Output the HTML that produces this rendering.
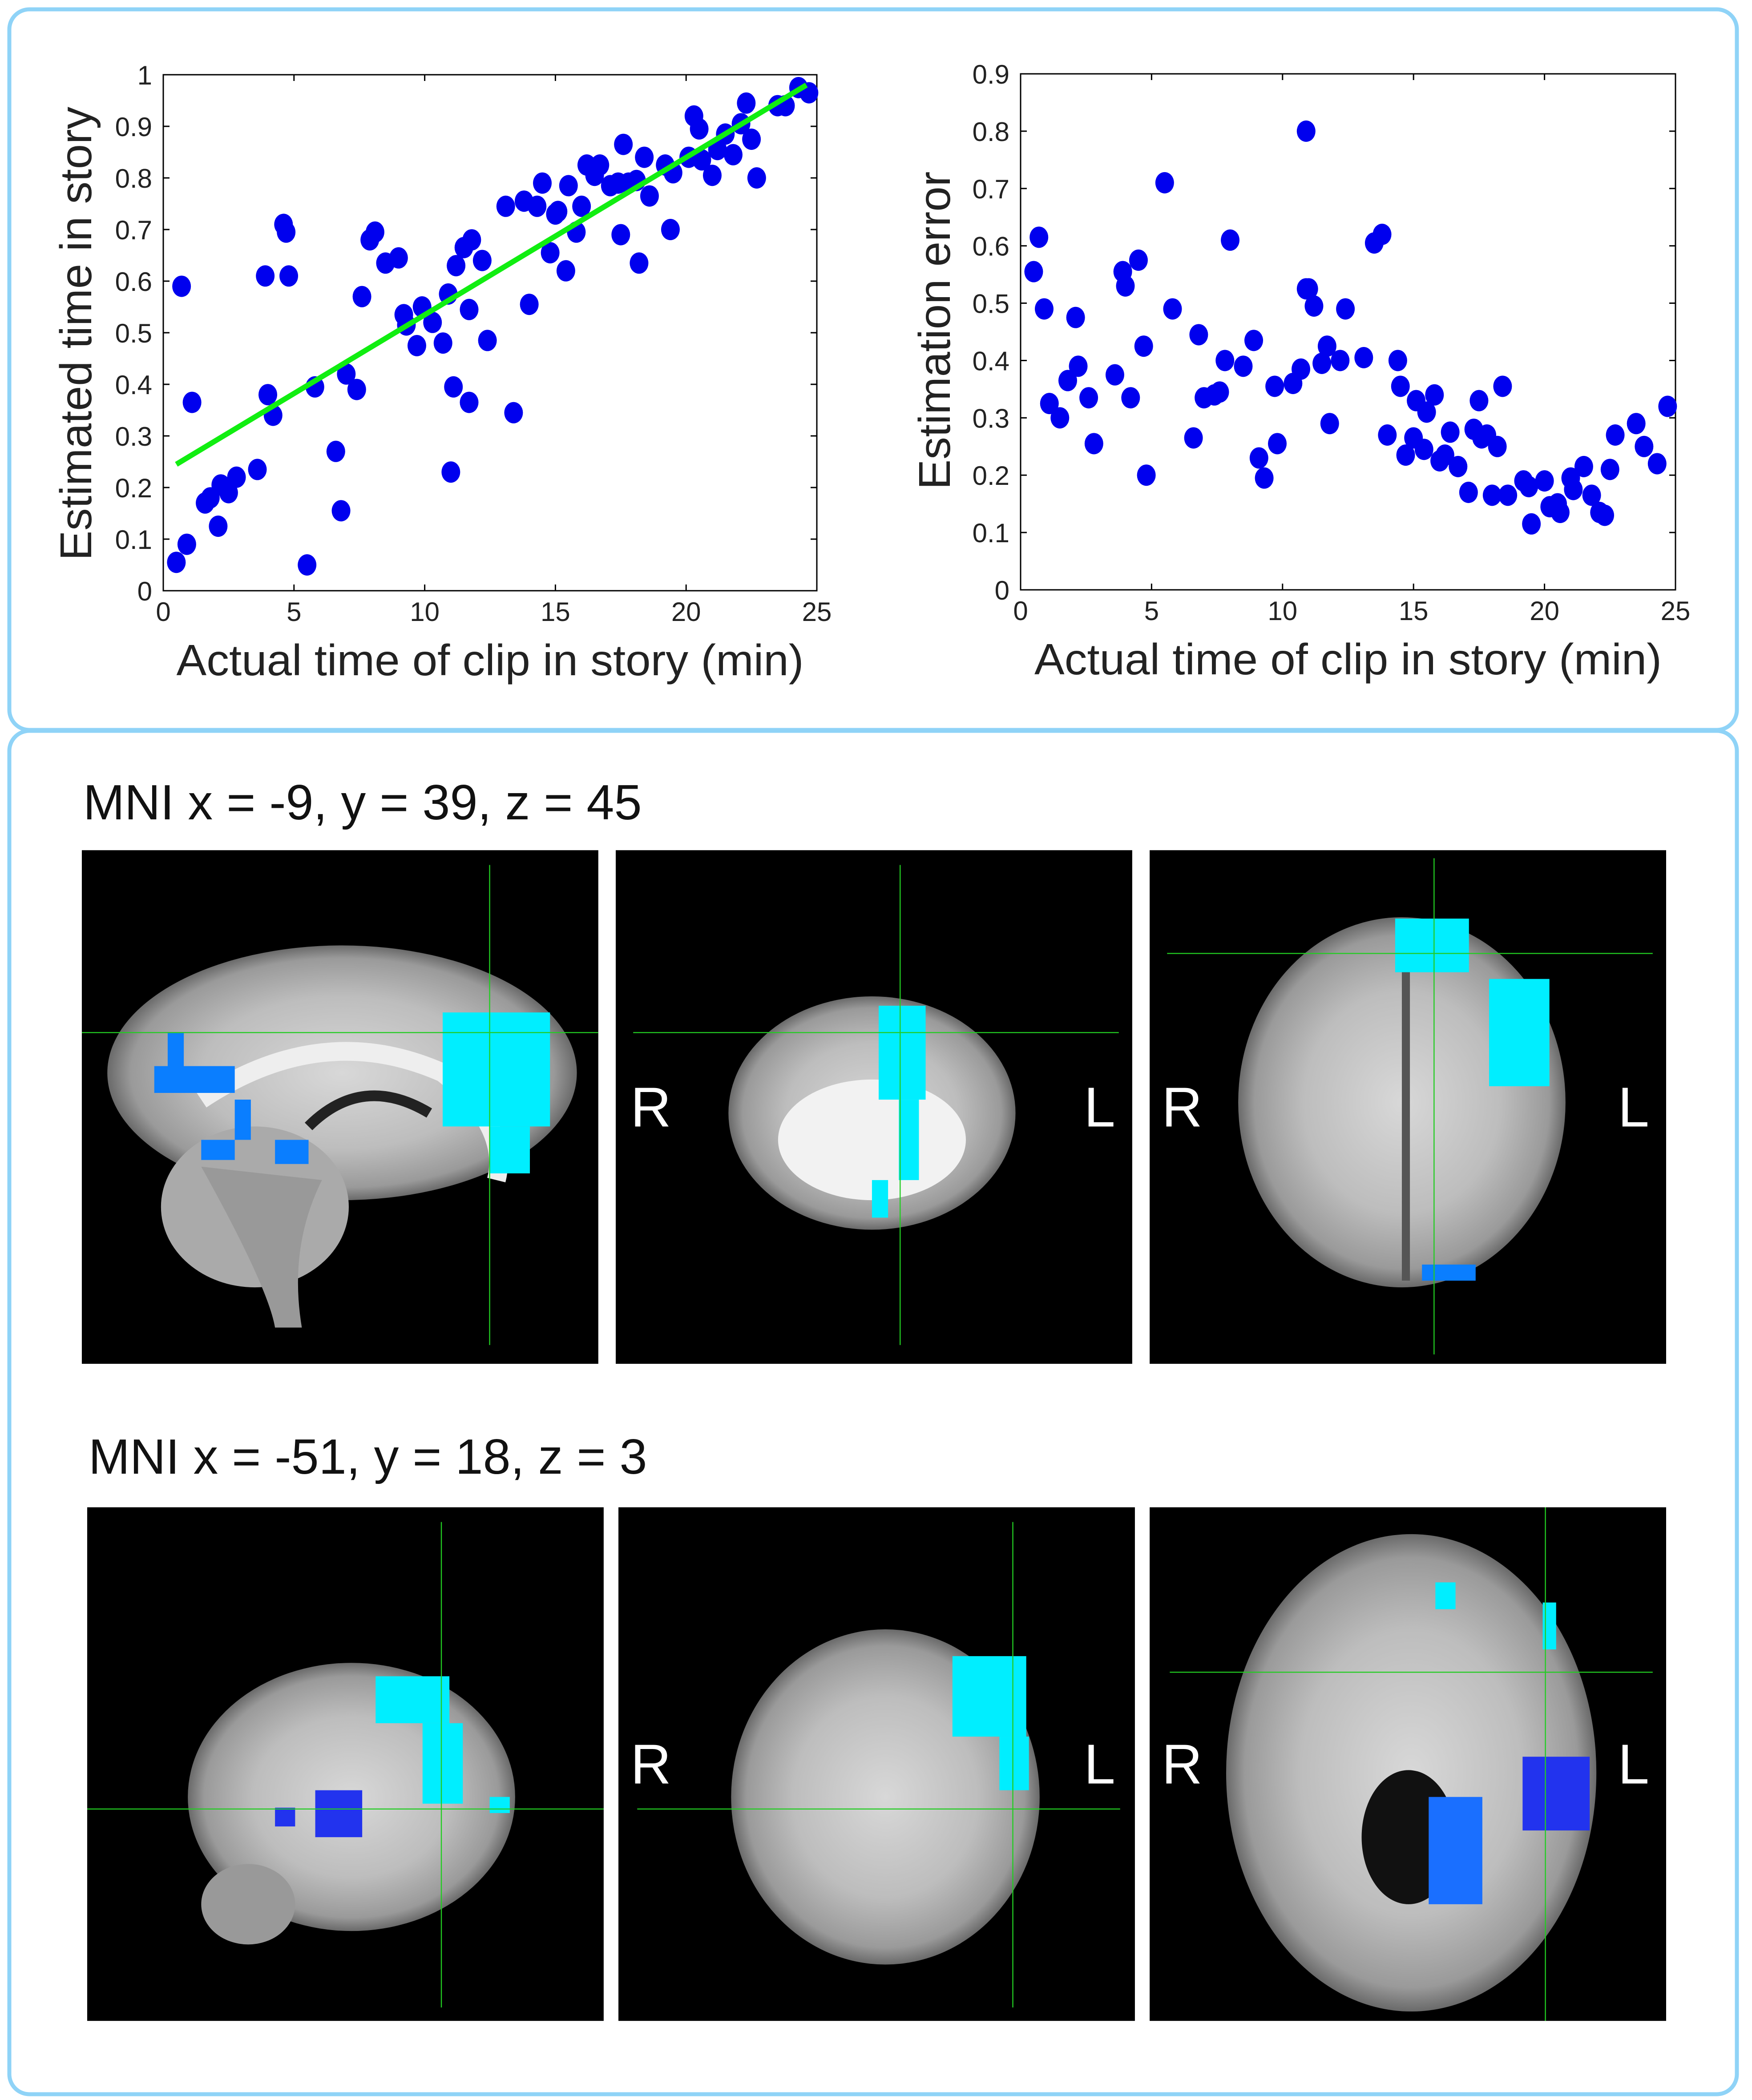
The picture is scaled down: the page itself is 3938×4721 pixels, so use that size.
<!DOCTYPE html>
<html><head><meta charset="utf-8"><style>
html,body{margin:0;padding:0;background:#fff}
svg{display:block}
text{font-family:"Liberation Sans",sans-serif}
</style></head><body>
<svg id="root" width="3938" height="4721" viewBox="0 0 3938 4721" xmlns="http://www.w3.org/2000/svg">
<defs>
<radialGradient id="brainG" cx="50%" cy="50%" r="50%">
<stop offset="0" stop-color="#d8d8d8"/><stop offset="0.6" stop-color="#bdbdbd"/><stop offset="0.9" stop-color="#9a9a9a"/><stop offset="1" stop-color="#6a6a6a"/>
</radialGradient>
</defs>
<rect x="21" y="21" width="3883" height="1620" rx="45" fill="none" stroke="#8fd3f7" stroke-width="9"/>
<rect x="21" y="1643" width="3883" height="3065" rx="45" fill="none" stroke="#8fd3f7" stroke-width="9"/>
<g id="chart1"></g>
<g id="chart2"></g>

<g transform="scale(3.0153,3.0147)">
<text x="62" y="611" font-size="37" fill="#111">MNI x = -9, y = 39, z = 45</text>
<text x="66" y="1099" font-size="37" fill="#111">MNI x = -51, y = 18, z = 3</text>

<g>
<rect x="61" y="634" width="385" height="383" fill="#000"/>
<ellipse cx="255" cy="800" rx="175" ry="95" fill="url(#brainG)"/>
<ellipse cx="190" cy="900" rx="70" ry="60" fill="#aaa"/>
<path d="M150 870 Q200 960 205 990 L225 990 Q215 930 240 880Z" fill="#999"/>
<path d="M150 820 Q240 760 330 800 Q380 840 370 880" stroke="#eee" stroke-width="14" fill="none"/>
<path d="M230 840 Q270 800 320 830" stroke="#222" stroke-width="8" fill="none"/>
<rect x="330" y="755" width="80" height="85" fill="#00eeff"/><rect x="365" y="840" width="30" height="35" fill="#00eeff"/>
<rect x="115" y="795" width="60" height="20" fill="#0a7eff"/><rect x="125" y="770" width="12" height="30" fill="#0a7eff"/>
<rect x="150" y="850" width="25" height="15" fill="#0a7eff"/><rect x="205" y="850" width="25" height="18" fill="#0a7eff"/><rect x="175" y="820" width="12" height="30" fill="#0a7eff"/>
<line x1="365" y1="645" x2="365" y2="1003" stroke="#22cc22" stroke-width="0.8"/>
<line x1="61" y1="770" x2="446" y2="770" stroke="#22cc22" stroke-width="0.8"/>
</g>
<g>
<rect x="459" y="634" width="385" height="383" fill="#000"/>
<ellipse cx="650" cy="830" rx="107" ry="87" fill="url(#brainG)"/>
<ellipse cx="650" cy="850" rx="70" ry="45" fill="#f2f2f2"/>
<rect x="655" y="750" width="35" height="70" fill="#00eeff"/><rect x="670" y="820" width="15" height="60" fill="#00eeff"/><rect x="650" y="880" width="12" height="28" fill="#00eeff"/>
<line x1="671" y1="645" x2="671" y2="1003" stroke="#22cc22" stroke-width="0.8"/>
<line x1="472" y1="770" x2="834" y2="770" stroke="#22cc22" stroke-width="0.8"/>
<text x="470" y="840" font-size="42" fill="#fff">R</text><text x="808" y="840" font-size="42" fill="#fff">L</text>
</g>
<g>
<rect x="857" y="634" width="385" height="383" fill="#000"/>
<ellipse cx="1045" cy="822" rx="122" ry="138" fill="url(#brainG)"/>
<line x1="1048" y1="690" x2="1048" y2="955" stroke="#555" stroke-width="6"/>
<rect x="1040" y="685" width="55" height="40" fill="#00eeff"/><rect x="1110" y="730" width="45" height="80" fill="#00eeff"/>
<rect x="1060" y="943" width="40" height="12" fill="#0a7eff"/>
<line x1="1069" y1="640" x2="1069" y2="1010" stroke="#22cc22" stroke-width="0.8"/>
<line x1="870" y1="711" x2="1232" y2="711" stroke="#22cc22" stroke-width="0.8"/>
<text x="866" y="840" font-size="42" fill="#fff">R</text><text x="1206" y="840" font-size="42" fill="#fff">L</text>
</g>

<g>
<rect x="65" y="1124" width="385" height="383" fill="#000"/>
<ellipse cx="262" cy="1340" rx="122" ry="100" fill="url(#brainG)"/>
<ellipse cx="185" cy="1420" rx="35" ry="30" fill="#999"/>
<rect x="280" y="1250" width="55" height="35" fill="#00eeff"/><rect x="315" y="1285" width="30" height="60" fill="#00eeff"/><rect x="365" y="1340" width="15" height="12" fill="#00eeff"/>
<rect x="235" y="1335" width="35" height="35" fill="#2233ee"/><rect x="205" y="1348" width="15" height="14" fill="#2233ee"/>
<line x1="329" y1="1135" x2="329" y2="1497" stroke="#22cc22" stroke-width="0.8"/>
<line x1="65" y1="1349" x2="450" y2="1349" stroke="#22cc22" stroke-width="0.8"/>
</g>
<g>
<rect x="461" y="1124" width="385" height="383" fill="#000"/>
<ellipse cx="660" cy="1340" rx="115" ry="125" fill="url(#brainG)"/>
<rect x="710" y="1235" width="55" height="60" fill="#00eeff"/><rect x="745" y="1295" width="22" height="40" fill="#00eeff"/>
<line x1="755" y1="1135" x2="755" y2="1497" stroke="#22cc22" stroke-width="0.8"/>
<line x1="475" y1="1349" x2="835" y2="1349" stroke="#22cc22" stroke-width="0.8"/>
<text x="470" y="1330" font-size="42" fill="#fff">R</text><text x="808" y="1330" font-size="42" fill="#fff">L</text>
</g>
<g>
<rect x="857" y="1124" width="385" height="383" fill="#000"/>
<ellipse cx="1052" cy="1322" rx="138" ry="178" fill="url(#brainG)"/>
<ellipse cx="1050" cy="1370" rx="35" ry="50" fill="#111"/>
<rect x="1135" y="1310" width="50" height="55" fill="#2233ee"/><rect x="1065" y="1340" width="40" height="80" fill="#1a6fff"/>
<rect x="1070" y="1180" width="15" height="20" fill="#00eeff"/><rect x="1150" y="1195" width="10" height="35" fill="#00eeff"/>
<line x1="1152" y1="1124" x2="1152" y2="1507" stroke="#22cc22" stroke-width="0.8"/>
<line x1="872" y1="1247" x2="1232" y2="1247" stroke="#22cc22" stroke-width="0.8"/>
<text x="866" y="1330" font-size="42" fill="#fff">R</text><text x="1206" y="1330" font-size="42" fill="#fff">L</text>
</g>
</g>
</svg>
<script>
const xTicks=[0,5,10,15,20,25];
const yTicks1=[0,0.1,0.2,0.3,0.4,0.5,0.6,0.7,0.8,0.9,1];
const yTickLabels1=["0","0.1","0.2","0.3","0.4","0.5","0.6","0.7","0.8","0.9","1"];
const yTicks2=[0,0.1,0.2,0.3,0.4,0.5,0.6,0.7,0.8,0.9];
const yTickLabels2=["0","0.1","0.2","0.3","0.4","0.5","0.6","0.7","0.8","0.9"];
const estX=[0.5,0.9,0.7,1.1,1.6,1.8,2.2,2.1,2.5,2.8,3.6,3.9,4.0,4.2,4.6,4.7,4.8,5.5,5.8,6.6,6.8,7.0,7.4,7.6,7.9,8.1,8.5,9.0,9.2,9.3,9.7,9.9,10.3,10.7,10.9,11.0,11.1,11.2,11.5,11.8,11.7,11.7,12.2,12.4,13.1,13.4,13.8,14.0,14.3,14.5,14.8,15.0,15.1,15.4,15.5,15.8,16.0,16.2,16.5,16.7,17.1,17.4,17.5,17.6,17.8,18.1,18.2,18.4,18.6,19.2,19.4,19.5,20.1,20.3,20.5,20.6,21.0,21.2,21.5,21.8,22.1,22.3,22.5,22.7,23.5,23.8,24.3,24.7];
const estY=[0.055,0.09,0.59,0.365,0.17,0.18,0.205,0.125,0.19,0.22,0.235,0.61,0.38,0.34,0.71,0.695,0.61,0.05,0.395,0.27,0.155,0.42,0.39,0.57,0.68,0.695,0.635,0.645,0.535,0.515,0.475,0.55,0.52,0.48,0.575,0.23,0.395,0.63,0.665,0.68,0.545,0.365,0.64,0.485,0.745,0.345,0.755,0.555,0.745,0.79,0.655,0.73,0.735,0.62,0.785,0.695,0.745,0.825,0.805,0.825,0.785,0.79,0.69,0.865,0.79,0.795,0.635,0.84,0.765,0.825,0.70,0.81,0.84,0.92,0.895,0.835,0.805,0.855,0.885,0.845,0.905,0.945,0.875,0.80,0.94,0.94,0.975,0.965];
const fitX=[0.5,24.6];
const fitY=[0.245,0.98];
const errX=[0.5,0.7,0.9,1.1,1.5,1.8,2.1,2.2,2.6,2.8,3.6,3.9,4.0,4.2,4.5,4.7,4.8,5.5,5.8,6.6,6.8,7.0,7.4,7.6,7.8,8.0,8.5,8.9,9.1,9.3,9.7,9.8,10.4,10.7,10.9,10.9,11.0,11.2,11.5,11.7,11.8,12.2,12.4,13.1,13.5,13.8,14.0,14.4,14.5,14.7,15.0,15.1,15.4,15.5,15.8,16.0,16.2,16.4,16.7,17.1,17.3,17.5,17.6,17.8,18.0,18.2,18.4,18.6,19.2,19.4,19.5,20.0,20.2,20.5,20.6,21.0,21.1,21.5,21.8,22.1,22.3,22.5,22.7,23.5,23.8,24.3,24.7];
const errY=[0.555,0.615,0.49,0.325,0.30,0.365,0.475,0.39,0.335,0.255,0.375,0.555,0.53,0.335,0.575,0.425,0.20,0.71,0.49,0.265,0.445,0.335,0.34,0.345,0.40,0.61,0.39,0.435,0.23,0.195,0.355,0.255,0.36,0.385,0.525,0.80,0.525,0.495,0.395,0.425,0.29,0.40,0.49,0.405,0.605,0.62,0.27,0.40,0.355,0.235,0.265,0.33,0.245,0.31,0.34,0.225,0.235,0.275,0.215,0.17,0.28,0.33,0.265,0.27,0.165,0.25,0.355,0.165,0.19,0.18,0.115,0.19,0.145,0.15,0.135,0.195,0.175,0.215,0.165,0.135,0.13,0.21,0.27,0.29,0.25,0.22,0.32];

const NS='http://www.w3.org/2000/svg';
function mk(parent,tag,attrs){const e=document.createElementNS(NS,tag);for(const k in attrs)e.setAttribute(k,attrs[k]);parent.appendChild(e);return e;}

function drawChart(g,box,xMax,yMax,yT,yL,xs,ys,ylabel,ylabelX,fit){
  const sx=v=>box.l+(v/xMax)*(box.r-box.l);
  const sy=v=>box.b-(v/yMax)*(box.b-box.t);
  const frame=mk(g,'rect',{x:box.l,y:box.t,width:box.r-box.l,height:box.b-box.t,fill:'none',stroke:'#000','stroke-width':3});
  
  
  xTicks.forEach(t=>{
    const x=sx(t);
    mk(g,'line',{x1:x,y1:box.b,x2:x,y2:box.b-14,stroke:'#000','stroke-width':3});
    mk(g,'line',{x1:x,y1:box.t,x2:x,y2:box.t+14,stroke:'#000','stroke-width':3});
    const tx=mk(g,'text',{x:x,y:box.b+68,'font-size':60,'text-anchor':'middle',fill:'#222'});
    tx.textContent=String(t);
    
    
  });
  yT.forEach((t,i)=>{
    const y=sy(t);
    mk(g,'line',{x1:box.l,y1:y,x2:box.l+14,y2:y,stroke:'#000','stroke-width':3});
    mk(g,'line',{x1:box.r,y1:y,x2:box.r-14,y2:y,stroke:'#000','stroke-width':3});
    const tx=mk(g,'text',{x:box.l-25,y:y+22,'font-size':60,'text-anchor':'end',fill:'#222'});
    tx.textContent=yL[i];
    
    
  });
  xs.forEach((v,i)=>{
    const c=mk(g,'ellipse',{cx:sx(v),cy:sy(ys[i]),rx:21,ry:24,fill:'#0000ee'});
    
    
  });
  if(fit){
    const ln2=mk(g,'line',{x1:sx(fit[0][0]),y1:sy(fit[1][0]),x2:sx(fit[0][1]),y2:sy(fit[1][1]),stroke:'#11ee11','stroke-width':12});
    
    
  }
  const xl=mk(g,'text',{x:(box.l+box.r)/2,y:box.b+190,'font-size':98,'text-anchor':'middle',fill:'#222',textLength:1410,lengthAdjust:'spacingAndGlyphs'});
  xl.textContent='Actual time of clip in story (min)';
  
  
  const yl=mk(g,'text',{x:0,y:0,'font-size':100,'text-anchor':'middle',fill:'#222',transform:`translate(${ylabelX},${ylabel[1]}) rotate(-90)`,textLength:ylabel[2],lengthAdjust:'spacingAndGlyphs'});
  yl.textContent=ylabel[0];
  
  
}
drawChart(document.getElementById('chart1'),{l:367,r:1836,t:168,b:1328},25,1,yTicks1,yTickLabels1,estX,estY,['Estimated time in story',750,1020],205,[fitX,fitY]);
drawChart(document.getElementById('chart2'),{l:2294,r:3766,t:166,b:1326},25,0.9,yTicks2,yTickLabels2,errX,errY,['Estimation error',743,715],2135,null);
</script>
</body></html>
